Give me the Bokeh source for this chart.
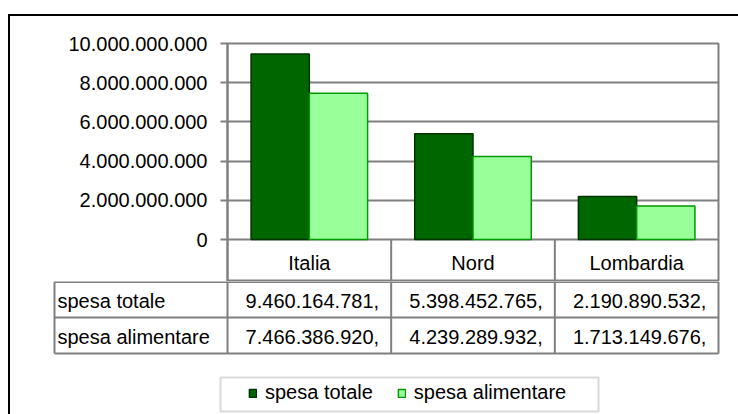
from bokeh.plotting import figure
from bokeh.layouts import column
from bokeh.models import (Range1d, LinearScale, BoxAnnotation, Legend, LegendItem,
                          ColumnDataSource, FixedTicker)
from bokeh.core.properties import value
from bokeh.transform import dodge
from bokeh.embed import file_html
from bokeh.resources import INLINE

# ---- data ----
categories = ["Italia", "Nord", "Lombardia"]
series_names = ["spesa totale", "spesa alimentare"]
spesa_totale = [9460164781, 5398452765, 2190890532]
spesa_alimentare = [7466386920, 4239289932, 1713149676]
y_ticks = [0, 2000000000, 4000000000, 6000000000, 8000000000, 10000000000]
y_tick_labels = ["0", "2.000.000.000", "4.000.000.000", "6.000.000.000",
                 "8.000.000.000", "10.000.000.000"]

# ---- style / layout constants (page pixels) ----
FONT = "Liberation Sans"
GREY = "#808080"
DARK, DARK_LINE = "#006600", "#003300"
LIGHT, LIGHT_LINE = "#99FF99", "#009900"
ORIG_X, ORIG_Y = 10, 16          # inside the black outer frame
PLOT_L, PLOT_R, PLOT_T, ZERO_Y = 227, 718, 43, 239
HEAD_B, ROW1_B, ROW2_B = 281, 317, 353
LABEL_L = 54
W, H = 738, 414
N = len(categories)
Y_MAX = y_ticks[-1]
CAT_W = (PLOT_R - PLOT_L) / N


def fmt(v):
    return f"{v:,}".replace(",", ".") + ","


cat_pos = [i + 0.5 for i in range(N)]
src = ColumnDataSource(dict(pos=cat_pos, cat=categories,
                            totale=spesa_totale, alimentare=spesa_alimentare))

# ================= chart (bars + header row) =================
p = figure(width=W - ORIG_X, height=HEAD_B - ORIG_Y,
           x_range=Range1d(0, N),
           y_range=Range1d(-Y_MAX * (HEAD_B - ZERO_Y) / (ZERO_Y - PLOT_T), Y_MAX),
           x_axis_location=None, output_backend="svg", toolbar_location=None,
           min_border_left=PLOT_L - ORIG_X, min_border_right=W - PLOT_R,
           min_border_top=PLOT_T - ORIG_Y, min_border_bottom=0)
p.frame_align = False
p.extra_y_ranges = {"px": Range1d(HEAD_B, PLOT_T)}
p.extra_y_scales = {"px": LinearScale()}

r1 = p.vbar(x=dodge("pos", -0.178), top="totale", width=0.356, source=src,
            fill_color=DARK, line_color=DARK_LINE, line_width=1.5)
r2 = p.vbar(x=dodge("pos", 0.178), top="alimentare", width=0.356, source=src,
            fill_color=LIGHT, line_color=LIGHT_LINE, line_width=1.5)

# header row: column separators + category names
p.segment(x0=[1, 2], x1=[1, 2], y0=[ZERO_Y] * 2, y1=[HEAD_B] * 2, y_range_name="px",
          line_color=GREY, line_width=2)
p.text(x=cat_pos, y=[(ZERO_Y + HEAD_B) / 2 + 2] * N, text=categories, y_range_name="px",
       text_align="center", text_baseline="middle", text_font=value(FONT),
       text_font_size="20px", text_color="black")

p.outline_line_color = GREY
p.outline_line_width = 2
for g in p.xgrid:
    g.visible = False
p.ygrid.grid_line_color = GREY
p.ygrid.grid_line_width = 2
p.ygrid.ticker = FixedTicker(ticks=y_ticks)

ya = p.yaxis[0]
ya.ticker = FixedTicker(ticks=y_ticks)
ya.major_label_overrides = dict(zip(y_ticks, y_tick_labels))
ya.major_label_text_font = FONT
ya.major_label_text_font_size = "20px"
ya.major_label_text_color = "black"
ya.axis_line_color = GREY
ya.axis_line_width = 2
ya.major_tick_line_color = GREY
ya.major_tick_line_width = 2
ya.major_tick_out = 7
ya.major_tick_in = 0
ya.minor_tick_line_color = None
ya.major_label_standoff = 13

# ================= data table rows + legend =================
t = figure(width=W - ORIG_X, height=H - HEAD_B,
           x_range=Range1d(ORIG_X, W), y_range=Range1d(H, HEAD_B),
           x_axis_location=None, y_axis_location=None, output_backend="svg",
           toolbar_location=None, min_border=0, min_border_left=0, min_border_right=0,
           min_border_top=0, min_border_bottom=0, outline_line_color=None)
t.frame_align = False
t.extra_x_ranges = {"cat": Range1d((ORIG_X - PLOT_L) / CAT_W, (W - PLOT_L) / CAT_W)}
t.extra_x_scales = {"cat": LinearScale()}
t.grid.visible = False

# horizontal rules
t.segment(x0=[LABEL_L] * 3, x1=[PLOT_R] * 3, y0=[HEAD_B + 0.5, ROW1_B, ROW2_B],
          y1=[HEAD_B + 0.5, ROW1_B, ROW2_B], line_color=GREY, line_width=2)
# vertical rules
t.segment(x0=[LABEL_L], x1=[LABEL_L], y0=[HEAD_B], y1=[ROW2_B], line_color=GREY, line_width=2)
t.segment(x0=list(range(N + 1)), x1=list(range(N + 1)), y0=[HEAD_B] * (N + 1),
          y1=[ROW2_B] * (N + 1), x_range_name="cat", line_color=GREY, line_width=2)

row_mid = [(HEAD_B + ROW1_B) / 2 + 1, (ROW1_B + ROW2_B) / 2 + 1]
t.text(x=[LABEL_L + 3] * 2, y=row_mid, text=series_names, text_align="left",
       text_baseline="middle", text_font=value(FONT), text_font_size="20px",
       text_color="black")
tab = ColumnDataSource(dict(
    pos=cat_pos * 2,
    txt=[fmt(v) for v in spesa_totale] + [fmt(v) for v in spesa_alimentare],
    ypos=[row_mid[0]] * N + [row_mid[1]] * N,
))
t.text(x="pos", y="ypos", text="txt", source=tab, x_range_name="cat", x_offset=3,
       text_align="center", text_baseline="middle", text_font=value(FONT),
       text_font_size="20px", text_color="black")

# legend (proxy renderers carry only the series styles; NaN means nothing is drawn)
t.add_layout(BoxAnnotation(left=220, right=598, top=377, bottom=411, fill_alpha=0,
                           line_color=GREY, line_width=2))
nan = float("nan")
l1 = t.vbar(x=[nan], top=[nan], width=1, fill_color=DARK, line_color=DARK_LINE, line_width=1.5)
l2 = t.vbar(x=[nan], top=[nan], width=1, fill_color=LIGHT, line_color=LIGHT_LINE, line_width=1.5)
legend = Legend(items=[LegendItem(label=series_names[0], renderers=[l1]),
                       LegendItem(label=series_names[1], renderers=[l2])],
                orientation="horizontal", location=(238, 10),
                glyph_width=9, glyph_height=10, label_standoff=8, spacing=24,
                padding=0, margin=0, border_line_color=None, background_fill_alpha=0,
                label_text_font=FONT, label_text_font_size="20px", label_height=22,
                label_text_color="black")
t.add_layout(legend, "center")

root = column(p, t, spacing=0, margin=(14, 0, 0, 8),
              styles={"border-left": "2px solid black", "border-top": "2px solid black"})

open("out.html", "w").write(file_html(root, INLINE))
